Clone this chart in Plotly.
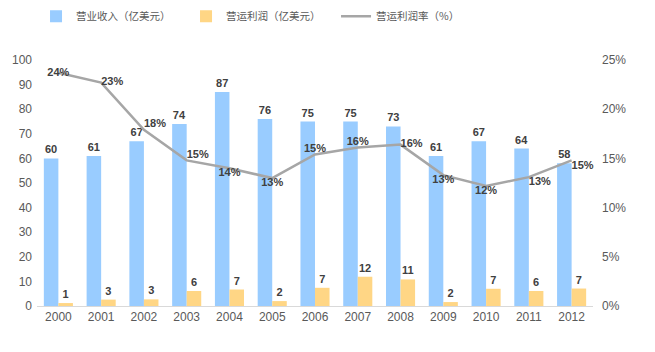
import plotly.graph_objects as go

years = ["2000", "2001", "2002", "2003", "2004", "2005", "2006",
         "2007", "2008", "2009", "2010", "2011", "2012"]
revenue = [60, 61, 67, 74, 87, 76, 75, 75, 73, 61, 67, 64, 58]
profit = [1.2, 2.6, 2.7, 6.1, 6.7, 2.0, 7.4, 11.9, 10.8, 1.6, 7.0, 6.1, 7.1]
margin = [0.237, 0.227, 0.179, 0.148, 0.140, 0.130, 0.154,
          0.161, 0.164, 0.133, 0.122, 0.131, 0.148]
margin_label_pos = ["middle center", "middle right", "top right", "top right",
                    "bottom center", "bottom center", "top center", "top center",
                    "middle right", "bottom center", "bottom center", "bottom right",
                    "bottom right"]

FONT = "Liberation Sans, Arial, Noto Sans CJK SC, sans-serif"
CJK = "Noto Sans CJK SC, Liberation Sans, sans-serif"
LABEL_FONT = dict(family=FONT, size=11, color="#404040", weight="bold")

fig = go.Figure()
fig.add_trace(go.Bar(
    x=years, y=revenue, name="营业收入（亿美元）",
    marker=dict(color="#99CCFF", line=dict(width=0)),
    text=revenue, texttemplate="%{y:.0f}", textposition="outside",
    textfont=LABEL_FONT, cliponaxis=False,
))
fig.add_trace(go.Bar(
    x=years, y=profit, name="营运利润（亿美元）",
    marker=dict(color="#FFD685", line=dict(width=0)),
    text=profit, texttemplate="%{y:.0f}", textposition="outside",
    textfont=LABEL_FONT, cliponaxis=False,
))
fig.add_trace(go.Scatter(
    x=years, y=margin, name="营运利润率（%）", yaxis="y2",
    mode="lines+text", line=dict(color="#A6A6A6", width=2.5),
    text=[f"{round(v*100):.0f}%" for v in margin],
    textposition=margin_label_pos, textfont=LABEL_FONT, cliponaxis=False,
))

fig.update_layout(
    width=655, height=352,
    margin=dict(l=37, r=62, t=60, b=46, autoexpand=False),
    paper_bgcolor="white", plot_bgcolor="white",
    barmode="group", bargap=0.32, bargroupgap=0,
    font=dict(family=FONT, size=12, color="#595959"),
    showlegend=True,
    legend=dict(
        orientation="h", xref="container", yref="container",
        x=0.055, y=0.995, xanchor="left", yanchor="top",
        entrywidth=105, entrywidthmode="pixels",
        font=dict(family=CJK, size=10.5, color="#595959"),
        bgcolor="rgba(0,0,0,0)",
    ),
    xaxis=dict(
        range=[-0.5, len(years) - 0.5],
        showgrid=False, showline=True, linecolor="#D9D9D9", linewidth=1,
        ticks="", tickfont=dict(size=12, color="#595959"), automargin=False,
    ),
    yaxis=dict(
        range=[0, 100], dtick=10, showgrid=False, zeroline=False,
        showline=False, ticks="", tickfont=dict(size=12, color="#595959"),
        automargin=False, ticklabelstandoff=4,
    ),
    yaxis2=dict(
        range=[0, 0.25], dtick=0.05, tickformat=".0%", overlaying="y",
        side="right", showgrid=False, zeroline=False, showline=False,
        ticks="", tickfont=dict(size=12, color="#595959"),
        ticklabelstandoff=8, automargin=False,
    ),
)

fig.write_html("out.html")
